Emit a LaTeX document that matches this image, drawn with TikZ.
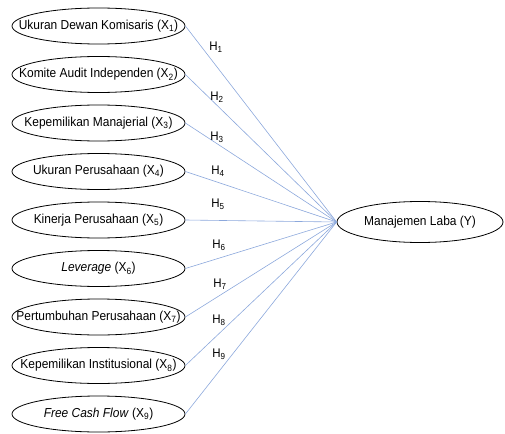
\documentclass[tikz,border=0pt]{standalone}
\usepackage{fontspec}
\setmainfont{Liberation Sans}[FakeStretch=0.92]
\usetikzlibrary{shapes.geometric}
\definecolor{linkblue}{RGB}{140,168,220}
\begin{document}
\begin{tikzpicture}[x=1pt,y=-1pt,
  varbox/.style={ellipse,draw=black,line width=0.8pt,minimum width=173pt,minimum height=36pt,inner sep=0pt},
  ybox/.style={ellipse,draw=black,line width=0.8pt,minimum width=166pt,minimum height=41pt,inner sep=0pt},
  vartext/.style={inner sep=0pt,font=\fontsize{13}{15}\selectfont},
  link/.style={draw=linkblue,line width=0.6pt},
  hlab/.style={font=\fontsize{12.5}{14}\selectfont,inner sep=0pt}]
\useasboundingbox (0,0) rectangle (505,433);
\node[varbox] (x1) at (98.5,26) {};
\node[varbox] (x2) at (98.5,74.5) {};
\node[varbox] (x3) at (98.5,123) {};
\node[varbox] (x4) at (98.5,171.5) {};
\node[varbox] (x5) at (98.5,220) {};
\node[varbox] (x6) at (98.5,268.5) {};
\node[varbox] (x7) at (98.5,317) {};
\node[varbox] (x8) at (98.5,365.5) {};
\node[varbox] (x9) at (98.5,414) {};
\node[vartext] (t1) at (x1) {Ukuran Dewan Komisaris (X\textsubscript{1})};
\node[vartext] (t2) at (x2) {Komite Audit Independen (X\textsubscript{2})};
\node[vartext] (t3) at (x3) {Kepemilikan Manajerial (X\textsubscript{3})};
\node[vartext] (t4) at (x4) {Ukuran Perusahaan (X\textsubscript{4})};
\node[vartext] (t5) at (x5) {Kinerja Perusahaan (X\textsubscript{5})};
\node[vartext] (t6) at (x6) {\textit{Leverage} (X\textsubscript{6})};
\node[vartext] (t7) at (x7) {Pertumbuhan Perusahaan (X\textsubscript{7})};
\node[vartext] (t8) at (x8) {Kepemilikan Institusional (X\textsubscript{8})};
\node[vartext] (t9) at (x9) {\textit{Free Cash Flow} (X\textsubscript{9})};
\node[ybox] (y) at (420,222) {};
\node[vartext] (ty) at (y) {Manajemen Laba (Y)};
\coordinate (c) at (y.west);
\foreach \i in {1,...,9} {\draw[link] (x\i.east) -- (c);}
\node[hlab] (h1) at (216,47) {H\textsubscript{1}};
\node[hlab] (h2) at (217,97) {H\textsubscript{2}};
\node[hlab] (h3) at (217,137) {H\textsubscript{3}};
\node[hlab] (h4) at (218,171) {H\textsubscript{4}};
\node[hlab] (h5) at (218,204) {H\textsubscript{5}};
\node[hlab] (h6) at (219,245) {H\textsubscript{6}};
\node[hlab] (h7) at (220,284) {H\textsubscript{7}};
\node[hlab] (h8) at (219,320) {H\textsubscript{8}};
\node[hlab] (h9) at (219,354) {H\textsubscript{9}};
\end{tikzpicture}
\end{document}
